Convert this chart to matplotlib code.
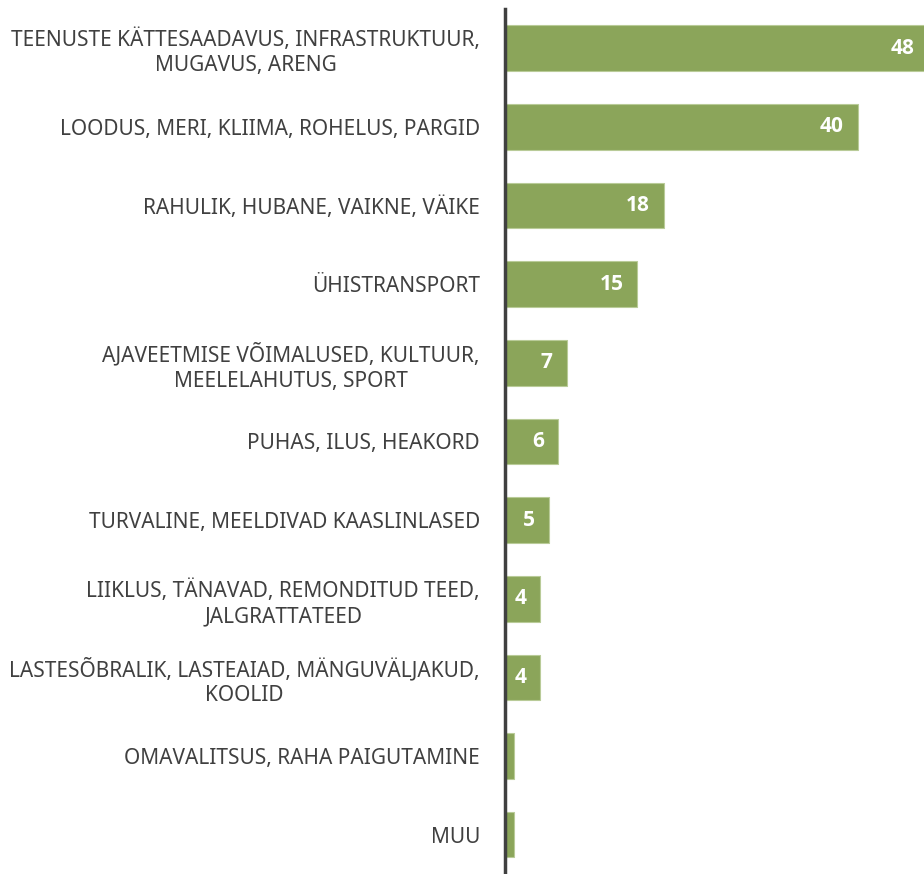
import matplotlib.pyplot as plt

categories = [
    'TEENUSTE KÄTTESAADAVUS, INFRASTRUKTUUR,\nMUGAVUS, ARENG',
    'LOODUS, MERI, KLIIMA, ROHELUS, PARGID',
    'RAHULIK, HUBANE, VAIKNE, VÄIKE',
    'ÜHISTRANSPORT',
    'AJAVEETMISE VÕIMALUSED, KULTUUR,\nMEELELAHUTUS, SPORT',
    'PUHAS, ILUS, HEAKORD',
    'TURVALINE, MEELDIVAD KAASLINLASED',
    'LIIKLUS, TÄNAVAD, REMONDITUD TEED,\nJALGRATTATEED',
    'LASTESÕBRALIK, LASTEAIAD, MÄNGUVÄLJAKUD,\nKOOLID',
    'OMAVALITSUS, RAHA PAIGUTAMINE',
    'MUU',
]
values = [48, 40, 18, 15, 7, 6, 5, 4, 4, 1, 1]
shown = [True] * 9 + [False, False]

plt.rcParams['font.family'] = ['Noto Sans', 'DejaVu Sans']

fig = plt.figure(figsize=(9.24, 8.74), dpi=100)
ax = fig.add_axes([0.5465, 0.0, 0.4535, 0.99])

y = list(range(len(values)))
bars = ax.barh(y, values, height=0.58, color='#8BA55A', edgecolor='#B9CB98', linewidth=0.8)

for b, v, s in zip(bars, values, shown):
    if s:
        ax.annotate(str(v), (b.get_width(), b.get_y() + b.get_height() / 2),
                    xytext=(-10, 0), textcoords='offset points', annotation_clip=False,
                    ha='right', va='center', color='white', fontsize=15,
                    fontweight='bold', family=['Open Sans', 'DejaVu Sans'])

ax.set_xlim(0, 47.5)
ax.set_ylim(len(values) - 0.5, -0.5)
ax.set_yticks(y)
ax.set_yticklabels(categories, fontsize=15, color='#404040', linespacing=1.25)
for lbl in ax.get_yticklabels():
    lbl.set_multialignment('center')
ax.tick_params(axis='y', length=0, pad=18)
ax.set_xticks([])
for side in ['top', 'right', 'bottom']:
    ax.spines[side].set_visible(False)
ax.spines['left'].set_color('#404040')
ax.spines['left'].set_linewidth(2.5)

fig.savefig('out.png', dpi=100)
